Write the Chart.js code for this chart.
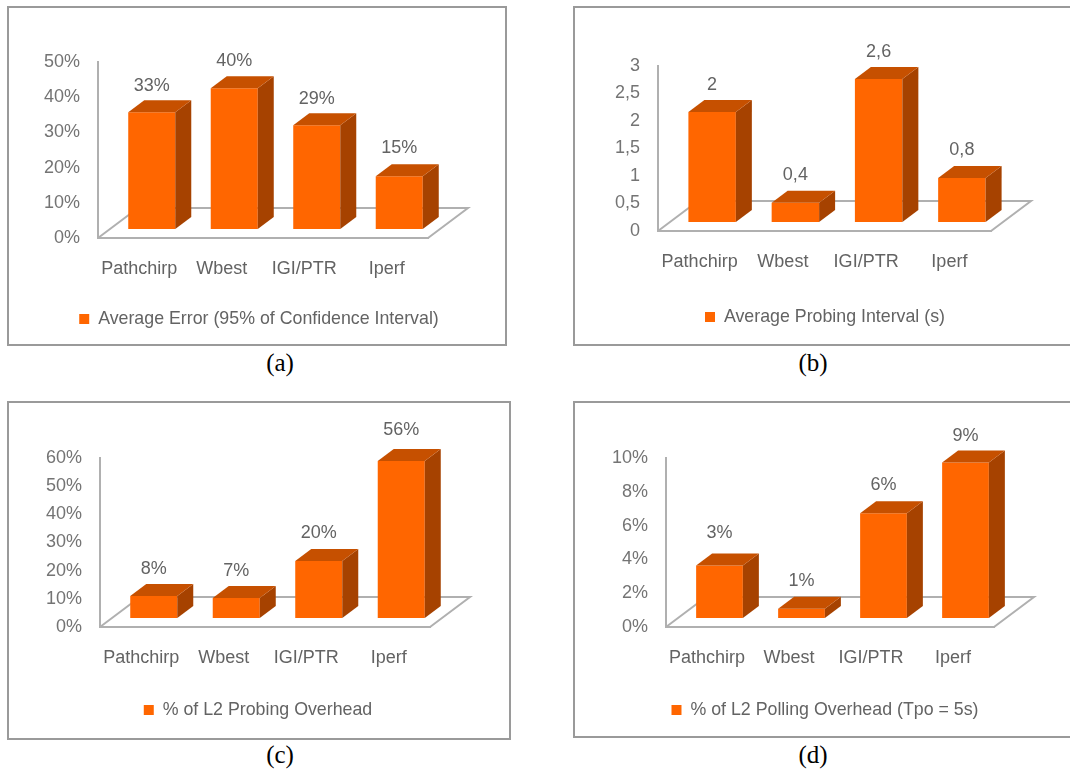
<!DOCTYPE html>
<html>
<head>
<meta charset="utf-8">
<title>Bandwidth estimation tools</title>
<script src="https://cdn.jsdelivr.net/npm/chart.js@4"></script>
<style>
  html, body { margin: 0; padding: 0; background: #fff; overflow: hidden; }
  body { position: relative; width: 1070px; height: 772px; }
  .box { position: absolute; box-sizing: border-box; border: 2px solid #9a9a9a; }
  canvas { position: absolute; }
  .cap { position: absolute; width: 60px; text-align: center; font: 25px "Liberation Serif", serif; color: #000; }
</style>
</head>
<body>
<div id="page"></div>
<script>
const categories = ['Pathchirp', 'Wbest', 'IGI/PTR', 'Iperf'];

const errorValues = [33.2, 40, 29.5, 15];
const errorLabels = ['33%', '40%', '29%', '15%'];

const intervalValues = [2, 0.35, 2.6, 0.8];
const intervalLabels = ['2', '0,4', '2,6', '0,8'];

const probingValues = [7.8, 7.1, 20.2, 55.7];
const probingLabels = ['8%', '7%', '20%', '56%'];

const pollingValues = [3.1, 0.55, 6.2, 9.2];
const pollingLabels = ['3%', '1%', '6%', '9%'];

const FONT = '"Liberation Sans", sans-serif';
const percent = v => v + '%';
const comma = v => String(v).replace('.', ',');

// box = frame on the page, axis = where the y axis and the floor sit
const panels = [
    { caption: '(a)', capX: 280, capY: 349, name: 'Average Error (95% of Confidence Interval)',
      values: errorValues, labels: errorLabels, max: 50, step: 10, fmt: percent,
      box: [7, 6, 500, 340], axisX: 98, axisEnd: 428, top: 62, zero: 238, legendX: 259, legendY: 320, lift: [26, 27, 26, 28] },
    { caption: '(b)', capX: 813, capY: 349, name: 'Average Probing Interval (s)',
      values: intervalValues, labels: intervalLabels, max: 3, step: 0.5, fmt: comma,
      box: [573, 6, 510, 340], axisX: 658, axisEnd: 991, top: 66, zero: 231, legendX: 825, legendY: 318, lift: [27, 28, 27, 28] },
    { caption: '(c)', capX: 280, capY: 741, name: '% of L2 Probing Overhead',
      values: probingValues, labels: probingLabels, max: 60, step: 10, fmt: percent,
      box: [7, 401, 504, 339], axisX: 100, axisEnd: 430, top: 458, zero: 627, legendX: 258, legendY: 711, lift: [27, 27, 28, 31] },
    { caption: '(d)', capX: 813, capY: 741, name: '% of L2 Polling Overhead (Tpo = 5s)',
      values: pollingValues, labels: pollingLabels, max: 10, step: 2, fmt: percent,
      box: [573, 401, 510, 337], axisX: 666, axisEnd: 994, top: 458, zero: 627, legendX: 825, legendY: 711, lift: [33, 28, 28, 26] }
];

// bars stand a bit back on the floor, the faces and floor are drawn here
const depth3d = {
    id: 'depth3d',
    afterLayout(chart, args, opts) {
        const legend = chart.legend;
        const h = legend.height;
        legend.left = opts.legendX - opts.boxX - 250;
        legend.right = opts.legendX - opts.boxX + 250;
        legend.top = opts.legendY - opts.boxY - h / 2;
        legend.bottom = legend.top + h;
    },
    beforeDatasetsDraw(chart) {
        const { ctx, chartArea: a } = chart;
        ctx.save();
        ctx.strokeStyle = '#b0b0b0';
        ctx.lineWidth = 2;
        ctx.beginPath();
        ctx.moveTo(a.left, a.bottom);
        ctx.lineTo(a.left + 40, a.bottom - 30);
        ctx.lineTo(a.right + 40, a.bottom - 30);
        ctx.lineTo(a.right, a.bottom);
        ctx.stroke();
        ctx.restore();
    },
    beforeDatasetDraw(chart) {
        chart.ctx.save();
        chart.ctx.translate(12.5, -9);
    },
    afterDatasetDraw(chart, args, opts) {
        const ctx = chart.ctx;
        chart.getDatasetMeta(0).data.forEach((bar, i) => {
            const l = bar.x - bar.width / 2;
            const r = bar.x + bar.width / 2;
            ctx.fillStyle = '#a64200';
            ctx.beginPath();
            ctx.moveTo(r, bar.y);
            ctx.lineTo(r + 16, bar.y - 12);
            ctx.lineTo(r + 16, bar.base - 12);
            ctx.lineTo(r, bar.base);
            ctx.fill();
            ctx.fillStyle = '#c65000';
            ctx.beginPath();
            ctx.moveTo(l, bar.y);
            ctx.lineTo(l + 16, bar.y - 12);
            ctx.lineTo(r + 16, bar.y - 12);
            ctx.lineTo(r, bar.y);
            ctx.fill();
            ctx.fillStyle = '#636363';
            ctx.font = '18px ' + FONT;
            ctx.textAlign = 'center';
            ctx.textBaseline = 'middle';
            ctx.fillText(opts.labels[i], bar.x, bar.y - opts.lift[i]);
        });
        ctx.restore();
    }
};

function drawPanel(p) {
    const [bx, by, bw, bh] = p.box;
    const page = document.getElementById('page');

    const frame = document.createElement('div');
    frame.className = 'box';
    frame.style.cssText = `left:${bx}px;top:${by}px;width:${bw}px;height:${bh}px`;
    page.appendChild(frame);

    const canvas = document.createElement('canvas');
    canvas.width = bw;
    canvas.height = bh;
    canvas.style.cssText = `left:${bx}px;top:${by}px;width:${bw}px;height:${bh}px`;
    page.appendChild(canvas);

    const cap = document.createElement('div');
    cap.className = 'cap';
    cap.textContent = p.caption;
    cap.style.left = (p.capX - 30) + 'px';
    cap.style.top = p.capY + 'px';
    page.appendChild(cap);

    const padTop = p.top - by;
    const plotH = p.zero - p.top;

    new Chart(canvas, {
        type: 'bar',
        data: {
            labels: categories,
            datasets: [{
                label: p.name,
                data: p.values,
                backgroundColor: '#ff6600',
                borderWidth: 0,
                barPercentage: 0.57,
                categoryPercentage: 1
            }]
        },
        plugins: [depth3d],
        options: {
            responsive: false,
            animation: false,
            layout: { padding: { left: 0, top: padTop, right: bw - (p.axisEnd - bx), bottom: 0 } },
            scales: {
                x: {
                    grid: { display: false },
                    border: { color: '#b0b0b0', width: 2 },
                    ticks: { color: '#636363', font: { family: FONT, size: 18 }, padding: 12, maxRotation: 0, autoSkip: false },
                    afterFit(axis) {
                        axis.paddingLeft = 0;
                        axis.paddingRight = 0;
                        axis.height = bh - padTop - plotH - axis.chart.legend.height;
                    }
                },
                y: {
                    min: 0,
                    max: p.max,
                    grid: { display: false },
                    border: { color: '#b0b0b0', width: 2 },
                    ticks: { color: '#747474', font: { family: FONT, size: 18 }, padding: 10, stepSize: p.step, callback: p.fmt },
                    afterFit(axis) {
                        axis.paddingTop = 0;
                        axis.paddingBottom = 0;
                        axis.width = p.axisX - bx;
                    }
                }
            },
            plugins: {
                tooltip: { enabled: false },
                legend: {
                    position: 'bottom',
                    labels: { color: '#636363', font: { family: FONT, size: 17.8 }, boxWidth: 10, boxHeight: 10, padding: 8 }
                },
                depth3d: { labels: p.labels, lift: p.lift, legendX: p.legendX, legendY: p.legendY, boxX: bx, boxY: by }
            }
        }
    });
}

panels.forEach(drawPanel);
</script>
</body>
</html>
